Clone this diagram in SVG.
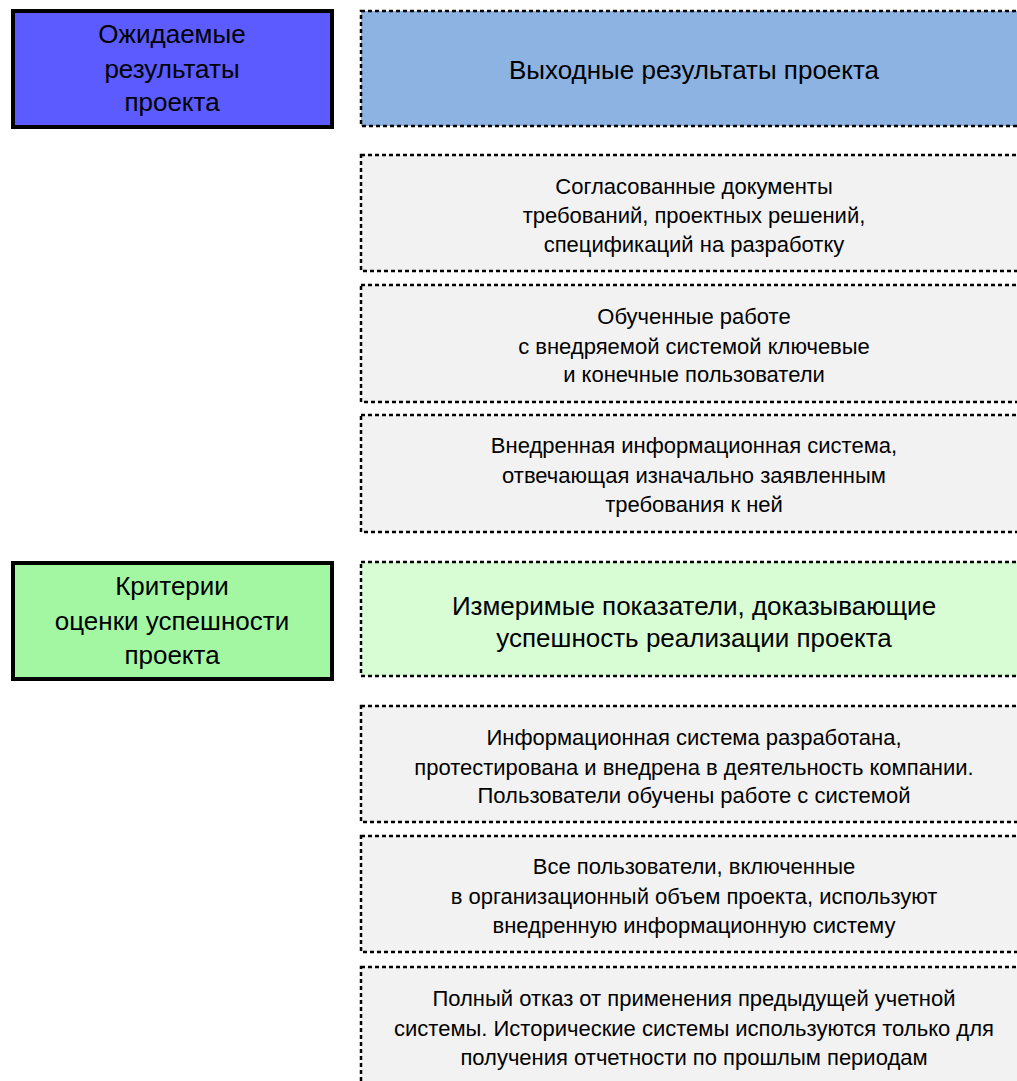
<svg xmlns="http://www.w3.org/2000/svg" width="1017" height="1081" viewBox="0 0 1017 1081">
<style>
.solid{stroke:#000;stroke-width:4}
.dash{stroke:#000;stroke-width:2.5;stroke-dasharray:4 3}
.t{font-family:"Liberation Sans",Arial,sans-serif;fill:#000;text-anchor:middle}
.big{font-size:26px}
.hd{font-size:26px}
.sm{font-size:22px}
</style>
<rect width="1017" height="1081" fill="#fff"/>
<g id="left-expected">
<rect class="solid" x="13" y="11" width="319" height="116" fill="#5b5bff"/>
<text class="t big" x="172" y="43">Ожидаемые</text>
<text class="t big" x="172" y="78">результаты</text>
<text class="t big" x="172" y="111">проекта</text>
</g>
<g id="header-outputs">
<rect class="dash" x="361" y="11" width="680" height="115" fill="#8db3e3"/>
<text class="t hd" x="694" y="79">Выходные результаты проекта</text>
</g>
<g id="out-1">
<rect class="dash" x="361" y="155" width="680" height="116" fill="#f2f2f2"/>
<text class="t sm" x="694" y="194">Согласованные документы</text>
<text class="t sm" x="694" y="223">требований, проектных решений,</text>
<text class="t sm" x="694" y="252">спецификаций на разработку</text>
</g>
<g id="out-2">
<rect class="dash" x="361" y="285" width="680" height="117" fill="#f2f2f2"/>
<text class="t sm" x="694" y="324">Обученные работе</text>
<text class="t sm" x="694" y="354">с внедряемой системой ключевые</text>
<text class="t sm" x="694" y="382">и конечные пользователи</text>
</g>
<g id="out-3">
<rect class="dash" x="361" y="415" width="680" height="117" fill="#f2f2f2"/>
<text class="t sm" x="694" y="453">Внедренная информационная система,</text>
<text class="t sm" x="694" y="483">отвечающая изначально заявленным</text>
<text class="t sm" x="694" y="512">требования к ней</text>
</g>
<g id="left-criteria">
<rect class="solid" x="13" y="563" width="319" height="116" fill="#a3f7a3"/>
<text class="t big" x="172" y="595">Критерии</text>
<text class="t big" x="172" y="630">оценки успешности</text>
<text class="t big" x="172" y="664">проекта</text>
</g>
<g id="header-criteria">
<rect class="dash" x="361" y="562" width="680" height="114" fill="#d8fcd4"/>
<text class="t hd" x="694" y="615">Измеримые показатели, доказывающие</text>
<text class="t hd" x="694" y="647">успешность реализации проекта</text>
</g>
<g id="crit-1">
<rect class="dash" x="361" y="706" width="680" height="116" fill="#f2f2f2"/>
<text class="t sm" x="694" y="745">Информационная система разработана,</text>
<text class="t sm" x="694" y="775">протестирована и внедрена в деятельность компании.</text>
<text class="t sm" x="694" y="803">Пользователи обучены работе с системой</text>
</g>
<g id="crit-2">
<rect class="dash" x="361" y="836" width="680" height="116" fill="#f2f2f2"/>
<text class="t sm" x="694" y="874">Все пользователи, включенные</text>
<text class="t sm" x="694" y="904">в организационный объем проекта, используют</text>
<text class="t sm" x="694" y="933">внедренную информационную систему</text>
</g>
<g id="crit-3">
<rect class="dash" x="361" y="967" width="680" height="140" fill="#f2f2f2"/>
<text class="t sm" x="694" y="1006">Полный отказ от применения предыдущей учетной</text>
<text class="t sm" x="694" y="1036">системы. Исторические системы используются только для</text>
<text class="t sm" x="694" y="1065">получения отчетности по прошлым периодам</text>
</g>
<g id="connectors"></g>
</svg>
